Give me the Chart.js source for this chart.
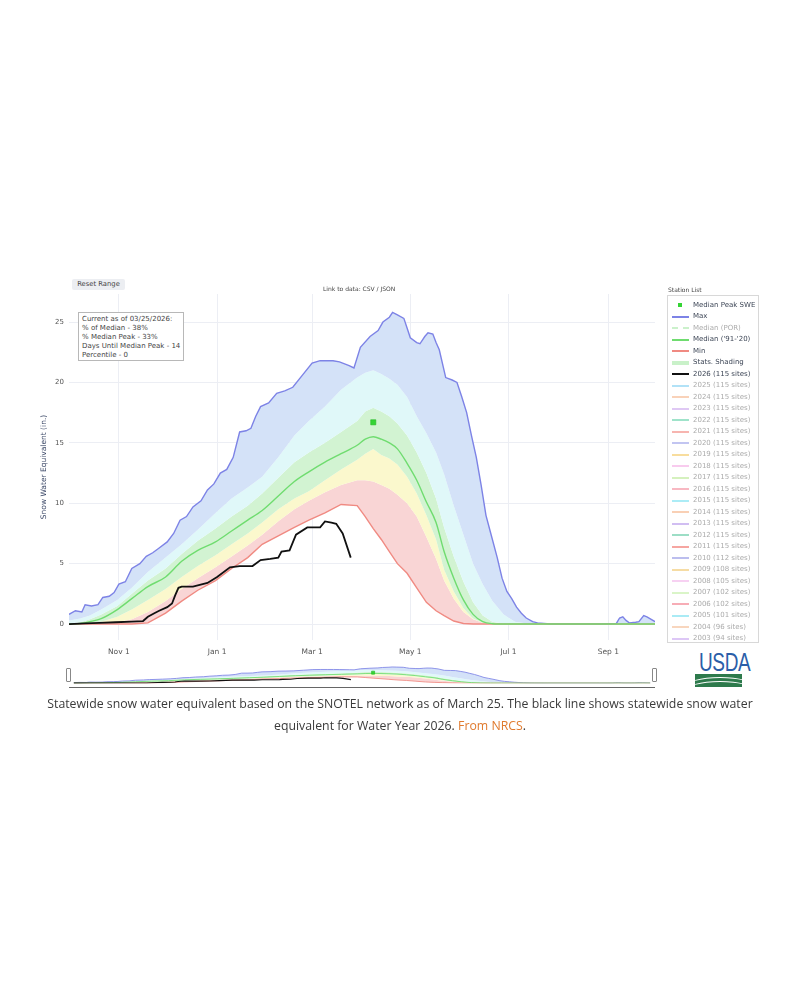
<!DOCTYPE html>
<html>
<head>
<meta charset="utf-8">
<title>Snow Water Equivalent</title>
<script src="https://cdn.jsdelivr.net/npm/chart.js@4.4.1/dist/chart.umd.min.js"></script>
<style>
  body { margin: 0; width: 800px; height: 1000px; background: #fff; position: relative; overflow: hidden;
         font-family: "DejaVu Sans", sans-serif; color: #444; }
  .abs { position: absolute; }
  #mainWrap { position: absolute; left: 34px; top: 276px; width: 631px; height: 382px; }
  #miniWrap { position: absolute; left: 69px; top: 661px; width: 586px; height: 27px; }
  #reset { left: 72px; top: 279px; width: 53px; height: 11px; background: #eceef2; border-radius: 2px;
           font-size: 6.8px; line-height: 11px; text-align: center; color: #444; }
  #link { left: 323px; top: 285px; font-size: 6px; color: #444; }
  #note { left: 78px; top: 312px; width: 106px; height: 49px; border: 1px solid #b8b8b8; background: #fff;
          font-size: 7px; line-height: 9px; padding: 2px 0 0 3px; box-sizing: border-box; color: #444; }
  #stationTitle { left: 668px; top: 286px; font-size: 6px; color: #444; }
  #legend { left: 667px; top: 295px; width: 92px; height: 348px; border: 1px solid #d8d8d8; box-sizing: border-box; }
  .item { position: absolute; left: 0; height: 11.5px; width: 92px; font-size: 7px; line-height: 11.5px; white-space: nowrap; }
  .item .ln { position: absolute; left: 4px; width: 17px; top: 5px; }
  .item .tx { position: absolute; left: 25px; }
  .handle { top: 668px; width: 3px; height: 12px; border: 1px solid #888; background: #fff; border-radius: 1px; }
  #baseline { left: 69px; top: 687px; width: 586px; height: 1px; background: #666; }
  #caption { left: 10px; top: 693px; width: 780px; text-align: center; font-family: "Open Sans", sans-serif;
             font-size: 12.3px; line-height: 22px; color: #3a3a3a; }
  #caption a { color: #e07a2e; text-decoration: none; }
  #usda { left: 693px; top: 651px; width: 50px; height: 37px; }
</style>
</head>
<body>

<div id="mainWrap"><canvas id="sweChart"></canvas></div>
<div id="miniWrap"><canvas id="rangeChart"></canvas></div>

<div id="reset" class="abs">Reset Range</div>
<div id="link" class="abs">Link to data: CSV / JSON</div>
<div id="note" class="abs"></div>
<div id="stationTitle" class="abs">Station List</div>
<div id="legend" class="abs"></div>
<div class="abs handle" style="left:66px"></div>
<div class="abs handle" style="left:652px"></div>
<div id="baseline" class="abs"></div>

<div id="usda" class="abs">
  <div style="position:absolute;left:0;top:0;width:50px;text-align:center;font-family:'Liberation Sans',sans-serif;font-size:25px;line-height:23px;color:#2b5ea8;transform:scaleX(0.76);transform-origin:center;letter-spacing:-0.5px">USDA</div>
  <div style="position:absolute;left:2px;top:23px;width:47px;height:13px;background:#2d7a4c;overflow:hidden">
    <div style="position:absolute;left:-10px;top:3px;width:70px;height:20px;border-top:1.5px solid #fff;border-radius:50% 50% 0 0"></div>
    <div style="position:absolute;left:-10px;top:7px;width:70px;height:20px;border-top:1.5px solid #fff;border-radius:50% 50% 0 0"></div>
  </div>
</div>

<div id="caption" class="abs">Statewide snow water equivalent based on the SNOTEL network as of March 25. The black line shows statewide snow water<br>equivalent for Water Year 2026. <a>From NRCS</a>.</div>

<script>
// x values are days of the water year (0 = Oct 1, 364 = Sep 30)
const tickDays = [31, 92, 151, 212, 273, 335];
const tickLabels = ['Nov 1', 'Jan 1', 'Mar 1', 'May 1', 'Jul 1', 'Sep 1'];
const yTicks = [0, 5, 10, 15, 20, 25];

// Max of record
const maxDays = [0, 4, 8, 10, 14, 18, 21, 25, 28, 31, 35, 39, 44, 48, 52, 56, 61, 65, 69, 73, 77, 82, 86, 90, 94, 98,
  102, 106, 110, 113, 116, 119, 124, 129, 134, 139, 145, 151, 156, 160, 164, 168, 174, 177, 181, 187, 192, 195, 199,
  201, 204, 208, 210, 212, 216, 218, 221, 223, 226, 228, 230, 234, 238, 241, 244, 247, 250, 253, 256, 259, 262, 266,
  269, 272, 275, 278, 281, 284, 288, 291, 299, 330, 340, 342, 344, 346, 348, 352, 354, 357, 359, 364];
const maxSwe = [0.8, 1.1, 1.0, 1.6, 1.5, 1.6, 2.2, 2.3, 2.6, 3.3, 3.5, 4.6, 5.0, 5.6, 5.9, 6.3, 6.8, 7.5, 8.6, 8.9,
  9.7, 10.2, 11.1, 11.6, 12.5, 12.8, 13.8, 15.9, 16.0, 16.2, 17.2, 18.0, 18.3, 19.1, 19.3, 19.6, 20.6, 21.6, 21.8,
  21.8, 21.8, 21.7, 21.4, 21.2, 22.9, 23.8, 24.3, 25.0, 25.4, 25.8, 25.6, 25.3, 24.5, 23.7, 23.3, 23.2, 23.8, 24.1,
  24.0, 23.3, 22.7, 20.4, 20.2, 20.0, 18.8, 17.5, 15.6, 13.8, 11.5, 9.0, 7.5, 5.5, 3.8, 2.7, 2.1, 1.4, 0.9, 0.5, 0.2,
  0.1, 0.0, 0.0, 0.05, 0.5, 0.6, 0.3, 0.1, 0.15, 0.2, 0.7, 0.6, 0.2];

// percentile bands, median ('91-'20) and min share one set of days
const bandDays = [0, 7, 13, 20, 30, 39, 49, 60, 70, 80, 91, 101, 111, 120, 130, 140, 149, 159, 169, 179, 184, 189,
  194, 199, 204, 210, 216, 222, 228, 233, 239, 245, 251, 257, 263, 270, 277, 287, 297, 332, 364];
const p90Swe = [0.3, 0.45, 0.7, 1.2, 2.0, 3.0, 4.3, 5.5, 6.6, 7.8, 9.2, 10.4, 11.3, 12.2, 13.8, 15.6, 16.8, 18.0,
  19.4, 20.4, 20.8, 21.0, 20.7, 20.3, 19.8, 18.8, 17.2, 15.8, 14.2, 12.4, 9.8, 7.4, 5.0, 3.3, 1.9, 0.8, 0.2, 0, 0, 0, 0];
const p70Swe = [0.05, 0.15, 0.4, 0.8, 1.5, 2.5, 3.6, 4.6, 5.8, 6.9, 7.9, 8.9, 9.8, 10.8, 12.1, 13.4, 14.2, 15.0,
  15.9, 16.8, 17.6, 17.9, 17.6, 17.2, 16.6, 15.6, 14.2, 12.5, 10.4, 8.0, 5.6, 3.5, 1.8, 0.7, 0.2, 0.03, 0, 0, 0, 0, 0];
const medianSwe = [0, 0.05, 0.2, 0.45, 1.2, 2.1, 3.1, 3.9, 5.2, 6.1, 6.8, 7.7, 8.6, 9.4, 10.6, 11.8, 12.6, 13.4,
  14.1, 14.8, 15.3, 15.5, 15.3, 15.0, 14.5, 13.3, 11.9, 10.1, 8.4, 6.0, 3.8, 2.0, 0.8, 0.2, 0.03, 0, 0, 0, 0, 0, 0];
const p30Swe = [0, 0.02, 0.08, 0.2, 0.6, 1.2, 2.0, 2.9, 3.9, 4.8, 5.7, 6.6, 7.5, 8.4, 9.5, 10.4, 11.0, 11.9, 12.8,
  13.6, 14.1, 14.5, 14.0, 13.7, 13.2, 12.2, 10.8, 9.0, 7.0, 4.5, 2.7, 1.3, 0.45, 0.1, 0.02, 0, 0, 0, 0, 0, 0];
const p10Swe = [0, 0, 0, 0.05, 0.15, 0.4, 1.0, 1.9, 2.9, 3.8, 4.7, 5.6, 6.5, 7.4, 8.5, 9.5, 10.2, 10.9, 11.5, 11.9,
  11.9, 11.8, 11.5, 11.2, 10.7, 10.0, 8.9, 7.2, 5.4, 3.6, 2.1, 1.0, 0.4, 0.1, 0, 0, 0, 0, 0, 0, 0];
const minSwe = [0, 0, 0, 0, 0, 0, 0.1, 0.9, 1.9, 2.8, 3.6, 4.6, 5.5, 6.6, 7.3, 8.0, 8.6, 9.2, 9.9, 9.8, 8.9, 7.9,
  7.0, 6.0, 5.0, 4.2, 3.0, 1.8, 1.1, 0.7, 0.25, 0.05, 0, 0, 0, 0, 0, 0, 0, 0, 0];

// Water Year 2026 (115 sites), through 03/25/2026
const wy2026Days = [0, 10, 19, 29, 39, 46, 49, 53, 56, 61, 64, 66, 68, 70, 77, 86, 92, 100, 106, 114, 119, 125,
  130, 132, 137, 141, 148, 153, 156, 159, 163, 166, 170, 175];
const wy2026Swe = [0, 0.05, 0.1, 0.15, 0.2, 0.25, 0.6, 0.9, 1.1, 1.4, 1.7, 2.4, 3.0, 3.1, 3.1, 3.4, 3.9, 4.7, 4.8,
  4.8, 5.3, 5.4, 5.5, 6.0, 6.1, 7.4, 8.0, 8.0, 8.0, 8.5, 8.4, 8.3, 7.5, 5.5];

const peakDay = 189;
const peakSwe = 16.7;

const noteLines = ['Current as of 03/25/2026:', '% of Median - 38%', '% Median Peak - 33%',
  'Days Until Median Peak - 14', 'Percentile - 0'];

const pastYears = ['2025', '2024', '2023', '2022', '2021', '2020', '2019', '2018', '2017', '2016', '2015', '2014',
  '2013', '2012', '2011', '2010', '2009', '2008', '2007', '2006', '2005', '2004', '2003'];
const pastSites = [115, 115, 115, 115, 115, 115, 115, 115, 115, 115, 115, 115, 115, 115, 115, 112, 108, 105, 102,
  102, 101, 96, 94];
const pastColors = ['#7fcff2', '#f5b48a', '#c9a3ec', '#5fd0a6', '#f2837c', '#9a9fe8', '#f3c65e', '#f3a9e3',
  '#b9e893', '#f3889a', '#74e0f0', '#f5b184', '#b393ea', '#5cc8a0', '#f06a62', '#8f93e3', '#f0c468', '#f1b3ea',
  '#c2efa4', '#f27686', '#72deef', '#f3ba92', '#c6a2f0'];

const colors = {
  max: '#7d83e6', median: '#6fdc6f', min: '#f08a82', wy: '#111111', peak: '#35d435',
  fillMax: '#d4e2f8', fillP90: '#e0f8f9', fillP70: '#d2f3d2', fillP30: '#fbf8cd', fillP10: '#f9d5d5'
};

const pts = (days, vals) => days.map((d, i) => ({ x: d, y: vals[i] }));

function makeDatasets(k) {
  return [
    { label: 'Median Peak SWE', data: [{ x: peakDay, y: peakSwe }], showLine: false, pointStyle: 'rect',
      pointRadius: 3.6 * k, backgroundColor: colors.peak, borderColor: '#22b822', borderWidth: 0.6 },
    { label: '2026 (115 sites)', data: pts(wy2026Days, wy2026Swe), borderColor: colors.wy, borderWidth: 1.8 * k,
      pointRadius: 0, fill: false },
    { label: "Median ('91-'20)", data: pts(bandDays, medianSwe), borderColor: colors.median, borderWidth: 1.4 * k,
      pointRadius: 0, fill: false, cubicInterpolationMode: 'monotone' },
    { label: 'Min', data: pts(bandDays, minSwe), borderColor: colors.min, borderWidth: 1.4 * k, pointRadius: 0,
      fill: false },
    { label: 'Max', data: pts(maxDays, maxSwe), borderColor: colors.max, borderWidth: 1.4 * k, pointRadius: 0,
      fill: 5, backgroundColor: colors.fillMax },
    { label: '90%', data: pts(bandDays, p90Swe), borderWidth: 0, pointRadius: 0, fill: 6,
      backgroundColor: colors.fillP90 },
    { label: '70%', data: pts(bandDays, p70Swe), borderWidth: 0, pointRadius: 0, fill: 7,
      backgroundColor: colors.fillP70 },
    { label: '30%', data: pts(bandDays, p30Swe), borderWidth: 0, pointRadius: 0, fill: 8,
      backgroundColor: colors.fillP30 },
    { label: '10%', data: pts(bandDays, p10Swe), borderWidth: 0, pointRadius: 0, fill: 3,
      backgroundColor: colors.fillP10 }
  ];
}

Chart.defaults.font.family = '"DejaVu Sans", sans-serif';
Chart.defaults.color = '#555';

const sweChart = new Chart(document.getElementById('sweChart'), {
  type: 'line',
  data: { datasets: makeDatasets(1) },
  options: {
    responsive: true,
    maintainAspectRatio: false,
    animation: false,
    events: [],
    layout: { padding: { top: 18, right: 10, left: 0, bottom: 0 } },
    plugins: { legend: { display: false }, tooltip: { enabled: false } },
    scales: {
      x: {
        type: 'linear', min: 0, max: 364,
        afterBuildTicks: scale => { scale.ticks = tickDays.map(v => ({ value: v })); },
        afterFit: scale => { scale.height = 18; },
        ticks: { autoSkip: false, maxRotation: 0, padding: 8, font: { size: 7.5 }, color: '#555',
                 callback: v => tickLabels[tickDays.indexOf(v)] },
        grid: { color: '#eceef4', drawTicks: false },
        border: { display: false }
      },
      y: {
        min: -1.32, max: 27.32,
        afterBuildTicks: scale => { scale.ticks = yTicks.map(v => ({ value: v })); },
        afterFit: scale => { scale.width = 35; },
        ticks: { padding: 5, font: { size: 7 }, color: '#555' },
        grid: { color: '#eceef4', drawTicks: false },
        border: { display: false },
        title: { display: true, text: 'Snow Water Equivalent (in.)', color: '#3a4766', font: { size: 7.5 },
                 padding: { top: 6, bottom: 0 } }
      }
    }
  }
});

new Chart(document.getElementById('rangeChart'), {
  type: 'line',
  data: { datasets: makeDatasets(0.6) },
  options: {
    responsive: true,
    maintainAspectRatio: false,
    animation: false,
    events: [],
    layout: { padding: 0 },
    plugins: { legend: { display: false }, tooltip: { enabled: false } },
    scales: {
      x: { type: 'linear', min: 0, max: 364, display: false },
      y: { min: -0.5, max: 28, display: false }
    }
  }
});

// info box
document.getElementById('note').innerHTML = noteLines.join('<br>');

// station list legend, built from the chart datasets plus the hidden past years
const ds = sweChart.data.datasets;
const legendItems = [
  { label: ds[0].label, marker: ds[0].backgroundColor },
  { label: ds[4].label, color: ds[4].borderColor },
  { label: 'Median (POR)', color: '#a8e8a8', dash: true, faded: true },
  { label: ds[2].label, color: ds[2].borderColor },
  { label: ds[3].label, color: ds[3].borderColor },
  { label: 'Stats. Shading', color: '#c9f1c9', width: 4 },
  { label: ds[1].label, color: ds[1].borderColor, width: 2 }
].concat(pastYears.map((y, i) => ({ label: y + ' (' + pastSites[i] + ' sites)', color: pastColors[i], faded: true })));

const legendEl = document.getElementById('legend');
legendItems.forEach((it, i) => {
  const row = document.createElement('div');
  row.className = 'item';
  row.style.top = (3.5 + i * 11.5) + 'px';
  let sample;
  if (it.marker) {
    sample = '<span class="ln" style="left:10px;top:3.5px;width:4px;height:4px;background:' + it.marker + '"></span>';
  } else {
    const w = it.width || 2;
    sample = '<span class="ln" style="top:' + (5.75 - w / 2) + 'px;border-top:' + w + 'px ' +
      (it.dash ? 'dashed' : 'solid') + ' ' + it.color + ';opacity:' + (it.faded ? 0.6 : 1) + '"></span>';
  }
  row.innerHTML = sample + '<span class="tx" style="color:' + (it.faded ? '#ababab' : '#3d4656') + '">' +
    it.label + '</span>';
  legendEl.appendChild(row);
});
</script>
</body>
</html>
